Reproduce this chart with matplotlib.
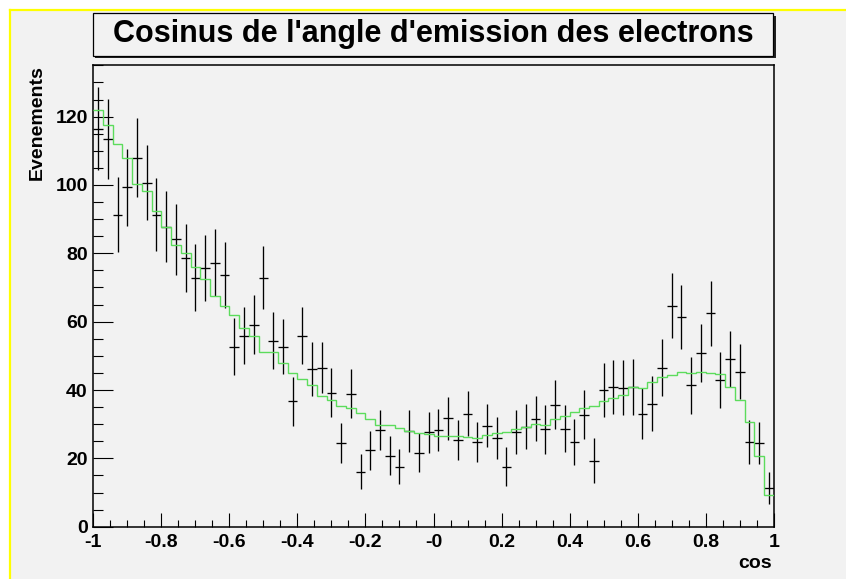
import numpy as np
import matplotlib
matplotlib.use("Agg")
import matplotlib.pyplot as plt
from matplotlib.patches import Rectangle
from matplotlib.ticker import MultipleLocator, FixedLocator

# Histogram of cos(theta): 70 bins between -1 and 1
x_min, x_max, n_bins = -1.0, 1.0, 70

# Measured event counts per bin and their error half-lengths
counts = [116.5, 113.4, 91.3, 99.3, 108.0, 100.7, 91.3, 87.8, 84.1, 78.7,
          72.9, 75.8, 77.3, 73.6, 52.7, 55.9, 59.1, 72.9, 54.4, 52.7,
          36.7, 55.9, 46.1, 46.5, 39.2, 24.4, 38.9, 16.1, 22.4, 28.2,
          20.8, 17.6, 28.0, 21.6, 27.6, 28.2, 31.7, 25.3, 33.1, 24.8,
          29.6, 25.9, 17.6, 27.7, 29.2, 31.6, 28.5, 35.7, 28.7, 24.8,
          32.8, 19.3, 40.0, 41.0, 40.7, 40.9, 33.1, 36.0, 46.5, 64.7,
          61.3, 41.4, 50.8, 62.4, 42.9, 49.0, 45.4, 24.8, 24.5, 11.3]
errors = [12.1, 11.8, 11.0, 11.3, 11.5, 11.1, 10.6, 10.4, 10.4, 9.9,
          9.7, 9.7, 9.7, 9.75, 8.4, 8.4, 8.7, 9.3, 8.3, 8.0,
          7.2, 8.3, 7.8, 7.4, 7.2, 5.9, 7.2, 5.2, 5.7, 5.85,
          5.6, 5.1, 6.2, 5.7, 6.0, 6.1, 6.2, 5.85, 6.7, 5.85,
          6.4, 6.2, 5.7, 6.5, 6.6, 6.6, 7.2, 7.2, 6.8, 6.8,
          7.2, 6.6, 7.8, 7.9, 8.1, 8.1, 7.4, 8.0, 8.4, 9.6,
          9.4, 8.4, 8.6, 9.4, 8.3, 8.2, 8.1, 6.5, 6.2, 4.7]

# Expected distribution (simulation), same binning
expected = [122.0, 117.4, 112.0, 107.9, 100.3, 98.2, 92.3, 87.8, 82.3, 80.2,
            76.1, 72.5, 67.4, 64.5, 62.0, 58.1, 55.9, 51.1, 51.1, 48.0,
            45.1, 43.2, 41.5, 38.1, 37.1, 35.3, 34.8, 33.2, 31.6, 29.9,
            29.9, 28.8, 28.0, 27.3, 27.0, 26.5, 26.5, 26.5, 26.25, 25.9,
            26.8, 27.3, 27.8, 28.5, 29.3, 30.1, 29.8, 31.6, 32.4, 33.6,
            34.7, 35.2, 36.9, 37.8, 38.5, 40.9, 40.7, 42.2, 43.7, 44.4,
            45.4, 45.0, 45.4, 44.9, 44.6, 41.0, 37.1, 30.5, 20.8, 9.3]

x_tick_values = [-1.0, -0.8, -0.6, -0.4, -0.2, 0.0, 0.2, 0.4, 0.6, 0.8, 1.0]
x_tick_labels = ["-1", "-0.8", "-0.6", "-0.4", "-0.2", "-0", "0.2", "0.4", "0.6", "0.8", "1"]

title = "Cosinus de l'angle d'emission des electrons"
y_title = "Evenements"
x_title = "cos"

W, H, DPI = 846, 579, 100
BG = "#f2f2f2"
FONT = "Liberation Sans"

edges = np.linspace(x_min, x_max, n_bins + 1)
centers = 0.5 * (edges[:-1] + edges[1:])
half_width = 0.5 * (edges[1] - edges[0])

fig = plt.figure(figsize=(W / DPI, H / DPI), dpi=DPI, facecolor=BG)


def px_box(x0, y0, x1, y1):
    """Convert a pixel box (top-left origin) to figure fractions."""
    return x0 / W, 1 - y1 / H, (x1 - x0) / W, (y1 - y0) / H


# Canvas border: white margin with a yellow edge on top and left
fig.patches.append(Rectangle((0, 0), 9.5 / W, 1, transform=fig.transFigure,
                             facecolor="white", edgecolor="none", zorder=0))
fig.patches.append(Rectangle((0, 1 - 9.5 / H), 1, 9.5 / H, transform=fig.transFigure,
                             facecolor="white", edgecolor="none", zorder=0))
fig.add_artist(plt.Line2D([10 / W, 10 / W], [0, 1 - 10 / H], transform=fig.transFigure,
                          color="#ffff00", lw=1.6, zorder=1))
fig.add_artist(plt.Line2D([10 / W, 1], [1 - 10 / H, 1 - 10 / H], transform=fig.transFigure,
                          color="#ffff00", lw=1.6, zorder=1))

ax = fig.add_axes(px_box(93.3, 65.0, 773.7, 526.7))
ax.set_facecolor(BG)

# Data with error bars
ax.errorbar(centers, counts, xerr=half_width, yerr=errors, fmt="none",
            ecolor="black", elinewidth=0.95, capsize=0, zorder=2)
# Expected distribution as a step line
ax.stairs(expected, edges, baseline=None, color="#5cdc5c", lw=1.0, zorder=3)

ax.set_xlim(x_min, x_max)
ax.set_ylim(0, 135.1)

ax.xaxis.set_major_locator(FixedLocator(x_tick_values))
ax.set_xticklabels(x_tick_labels)
ax.xaxis.set_minor_locator(MultipleLocator(0.05))
ax.yaxis.set_major_locator(MultipleLocator(20))
ax.yaxis.set_minor_locator(MultipleLocator(5))

ax.tick_params(axis="x", which="major", direction="in", length=10, width=0.8,
               pad=5, top=False)
ax.tick_params(axis="x", which="minor", direction="in", length=5, width=0.8, top=False)
ax.tick_params(axis="y", which="major", direction="in", length=14.7, width=0.8,
               pad=4, right=False)
ax.tick_params(axis="y", which="minor", direction="in", length=7.3, width=0.8, right=False)
for lab in ax.get_xticklabels() + ax.get_yticklabels():
    lab.set_fontfamily(FONT)
    lab.set_fontweight("bold")
    lab.set_fontsize(14)

for sp in ax.spines.values():
    sp.set_linewidth(1.1)
    sp.set_color("black")

# Axis titles
fig.text(37 / W, 1 - 65 / H, y_title, rotation=90, ha="center", va="top",
         fontfamily=FONT, fontweight="bold", fontsize=14)
fig.text(772 / W, 1 - 563 / H, x_title, ha="right", va="center",
         fontfamily=FONT, fontweight="bold", fontsize=14)

# Title box with drop shadow
bx0, by0, bx1, by1 = 92.7, 13.3, 773.0, 55.5
sx, sy, sw, sh = px_box(bx0 + 2.5, by0 + 2.5, bx1 + 2.5, by1 + 2.5)
fig.patches.append(Rectangle((sx, sy), sw, sh, transform=fig.transFigure,
                             facecolor="#222222", edgecolor="none", zorder=4))
tx, ty, tw, th = px_box(bx0, by0, bx1, by1)
fig.patches.append(Rectangle((tx, ty), tw, th, transform=fig.transFigure,
                             facecolor=BG, edgecolor="black", lw=0.9, zorder=5))
fig.text((bx0 + bx1) / 2 / W, 1 - (by0 + by1) / 2 / H, title, ha="center", va="center",
         fontfamily=FONT, fontweight="bold", fontsize=22, zorder=6)

fig.savefig("out.png", dpi=DPI, facecolor=fig.get_facecolor())
